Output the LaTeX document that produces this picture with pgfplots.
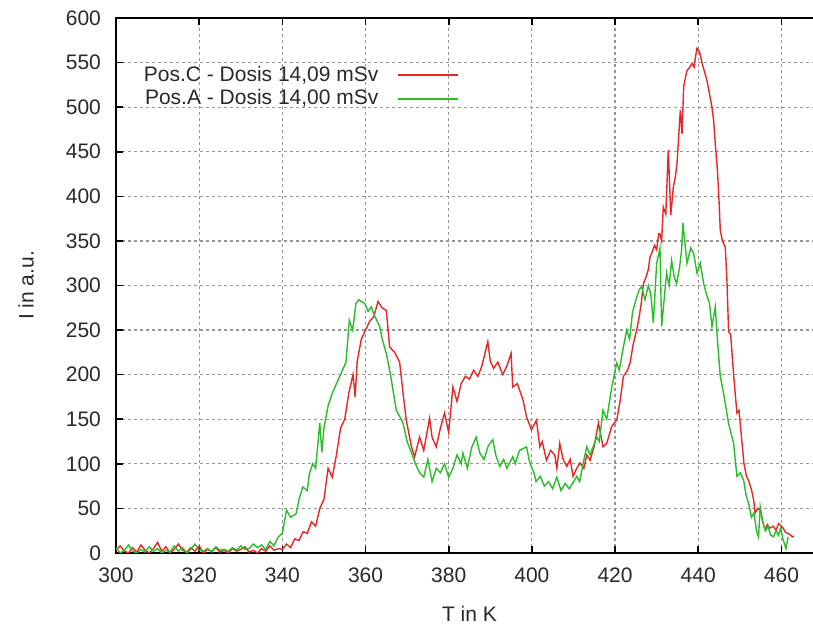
\documentclass[border=0pt]{standalone}
\usepackage{fontspec}
\setmainfont{Liberation Sans}
\usepackage{pgfplots}
\pgfplotsset{compat=1.18}
\usetikzlibrary{calc}

\definecolor{posC}{RGB}{232,38,38}
\definecolor{posA}{RGB}{40,190,40}
\definecolor{gridgray}{RGB}{150,150,150}
\definecolor{txt}{RGB}{40,40,40}

\newcommand{\lblfont}{\fontsize{10.5}{12.6}\selectfont}

\begin{document}
\begin{tikzpicture}
\begin{axis}[
  scale only axis,
  width=353.5pt, height=267.5pt,
  xmin=300, xmax=470, ymin=0, ymax=600,
  xtick={300,320,...,460},
  ytick={0,50,...,600},
  tick align=inside,
  xtick pos=both, ytick pos=both,
  major tick length=3.5pt,
  tick style={black, line width=0.8pt},
  axis line style={black, line width=0.8pt},
  grid=major,
  major grid style={gridgray, line width=0.6pt, dash pattern=on 1.5pt off 1.5pt},
  /pgf/number format/assume math mode=true,
  tick label style={font=\lblfont, text=txt},
  xticklabel style={yshift=-4pt},
  yticklabel style={xshift=-4pt},
  xlabel={T in K}, ylabel={I in a.u.},
  label style={font=\lblfont, text=txt},
  xlabel style={at={(0.5,-0.114)}, anchor=center},
  ylabel style={at={(-0.127,0.5)}, anchor=center},
  legend plot pos=right,
  legend cell align=right,
  legend image code/.code={\draw[#1] (0pt,0pt) -- (30pt,0pt);},
  legend style={draw=none, fill=none, font=\lblfont, text=txt,
    at={(0.494,0.871)}, anchor=east, row sep=-1.3pt, column sep=7.5pt},
]
\addplot[posC, line width=0.7pt] coordinates {
(300,3)(301,8)(302,2)(303,0)(304,6)(305,1)(306,9)(307,3)(308,0)(309,5)
(310,12)(311,2)(312,7)(313,0)(314,4)(315,10)(316,3)(317,1)(318,6)(319,2)
(320,8)(321,0)(322,4)(323,2)(324,6)(325,1)(326,3)(327,0)(328,5)(329,2)
(330,4)(331,7)(332,1)(333,3)(334,0)(335,5)(336,2)(337,8)(338,3)(339,5)
(340,4)(341,10)(342,6)(343,16)(344,14)(345,24)(346,22)(347,35)(348,30)(349,50)
(350,60)(351,95)(352,85)(353,110)(354,140)(355,150)(356,180)(357,200)(357.5,175)(358,215)
(359,240)(360,250)(361,260)(362,265)(363,282)(364,275)(365,272)(365.8,231)(367,225)(368.2,214)
(369,180)(369.8,149)(371,120)(371.8,108)(373,130)(374,115)(375.4,151)(376,130)(377,119)(378,140)
(379,157)(380,135)(381,186)(382,170)(383,190)(384,198)(385,195)(386,205)(387,198)(388,210)
(389.4,237)(390,215)(390.8,207)(391.8,214)(393,200)(394,210)(395,224)(395.4,186)(396.5,190)(397.9,171)
(398.7,153)(399.9,138)(401.1,149)(401.9,119)(402.5,125)(403.5,104)(404.5,115)(405.5,110)(406,95)(406.7,123)
(407.5,105)(408.4,97)(409.2,105)(409.9,86)(410.8,95)(411.6,101)(412.5,95)(413.2,110)(414,104)(415,120)
(416,146)(417.1,119)(418,123)(419.2,142)(420.4,149)(421.2,170)(422,198)(423,205)(423.6,213)(424.4,235)
(425.2,250)(425.8,265)(426.3,280)(426.8,302)(427.5,310)(428,318)(428.4,332)(428.8,336)(429.5,345)(430,340)
(430.5,358)(430.8,358)(431.2,350)(431.6,388)(432.2,380)(432.8,452)(433.4,379)(434,410)(434.5,422)(434.9,437)
(435.7,497)(436.1,470)(436.5,523)(437,535)(437.3,541)(438,545)(438.5,549)(439,545)(439.4,558)(439.7,566)
(440.3,562)(441,548)(441.5,540)(442.1,530)(442.7,515)(443.3,500)(443.7,485)(444.1,459)(444.6,430)(445,395)
(445.3,362)(445.8,350)(446.5,343)(446.9,306)(447.3,248)(447.8,245)(448.5,200)(449.3,157)(449.8,160)(450.5,125)
(451,100)(451.6,86)(452.2,80)(452.8,71)(453.3,60)(453.7,45)(454.3,50)(454.9,48)(455.5,35)(456.1,26)
(456.6,32)(457.2,28)(458.1,30)(458.7,25)(459.3,33)(459.8,31)(460.4,28)(461,23)(461.6,22)(462.2,20)
(462.6,18)(463,19)
};
\addlegendentry{Pos.C - Dosis 14,09 mSv}
\addplot[posA, line width=0.7pt] coordinates {
(300,6)(301,0)(302,3)(303,9)(304,2)(305,0)(306,4)(307,1)(308,7)(309,2)
(310,5)(311,0)(312,3)(313,1)(314,8)(315,2)(316,6)(317,0)(318,4)(319,10)
(320,3)(321,2)(322,5)(323,1)(324,7)(325,3)(326,4)(327,2)(328,6)(329,3)
(330,8)(331,4)(332,5)(333,10)(334,6)(335,9)(336,4)(337,13)(338,8)(339,18)
(340,22)(341,48)(342,40)(343.3,44)(344,60)(344.9,74)(346,70)(346.5,89)(347.3,100)(348,95)
(349,146)(349.5,113)(350,140)(351,165)(352,179)(353,190)(354,200)(355.3,214)(356.1,261)(356.9,250)
(357.7,280)(358.4,284)(359,282)(359.8,280)(360.6,271)(361.4,276)(362,268)(363.4,254)(364,240)(365,224)
(366,200)(367.4,160)(368,155)(369,146)(370,125)(371.4,108)(372,100)(373,90)(374,85)(375,105)
(376,80)(377,95)(378,90)(379,100)(380,85)(381,95)(382,110)(383,100)(383.4,112)(384.5,95)
(385.5,118)(386.6,130)(387.5,112)(388.5,105)(389.5,120)(390.6,127)(391.3,110)(392.3,97)(393.2,105)(394,95)
(395.4,108)(396,100)(397,115)(398.7,119)(399.5,101)(400.5,90)(401,80)(402,86)(403,75)(404,80)
(405,72)(406,85)(407,70)(408,78)(409,72)(410.8,86)(411.5,80)(412.3,100)(413.2,119)(414,110)
(415.6,130)(416.2,125)(417.1,160)(418,150)(419.2,186)(420.4,213)(421,205)(422,231)(422.8,250)(423.5,240)
(424.2,270)(425.2,287)(425.8,295)(426.4,299)(427.2,284)(428,300)(428.6,290)(429.2,258)(430,325)(430.8,342)
(431.2,254)(432.4,314)(433,300)(433.6,328)(434.2,310)(434.8,302)(435.5,320)(436,340)(436.3,370)(437.3,325)
(438.2,342)(438.9,336)(439.7,314)(440.5,325)(441.3,302)(442,290)(442.7,280)(443.3,254)(444.1,276)(444.6,240)
(445.3,198)(446.1,179)(447.3,145)(448.5,123)(449.3,86)(450.1,90)(450.9,82)(451.5,65)(452.1,56)(452.8,40)
(453.4,45)(454,25)(454.5,18)(454.9,52)(455.5,35)(456.2,25)(456.8,30)(457.4,20)(458.1,18)(458.7,25)
(459.3,20)(459.8,28)(460.4,15)(461.1,5)(461.6,18)
};
\addlegendentry{Pos.A - Dosis 14,00 mSv}
\end{axis}
\pgfresetboundingbox
\path[use as bounding box]
  ($(current axis.south west)+(-58pt,-36pt)$) rectangle
  ($(current axis.north west)+(348.5pt,9pt)$);
\end{tikzpicture}
\end{document}
